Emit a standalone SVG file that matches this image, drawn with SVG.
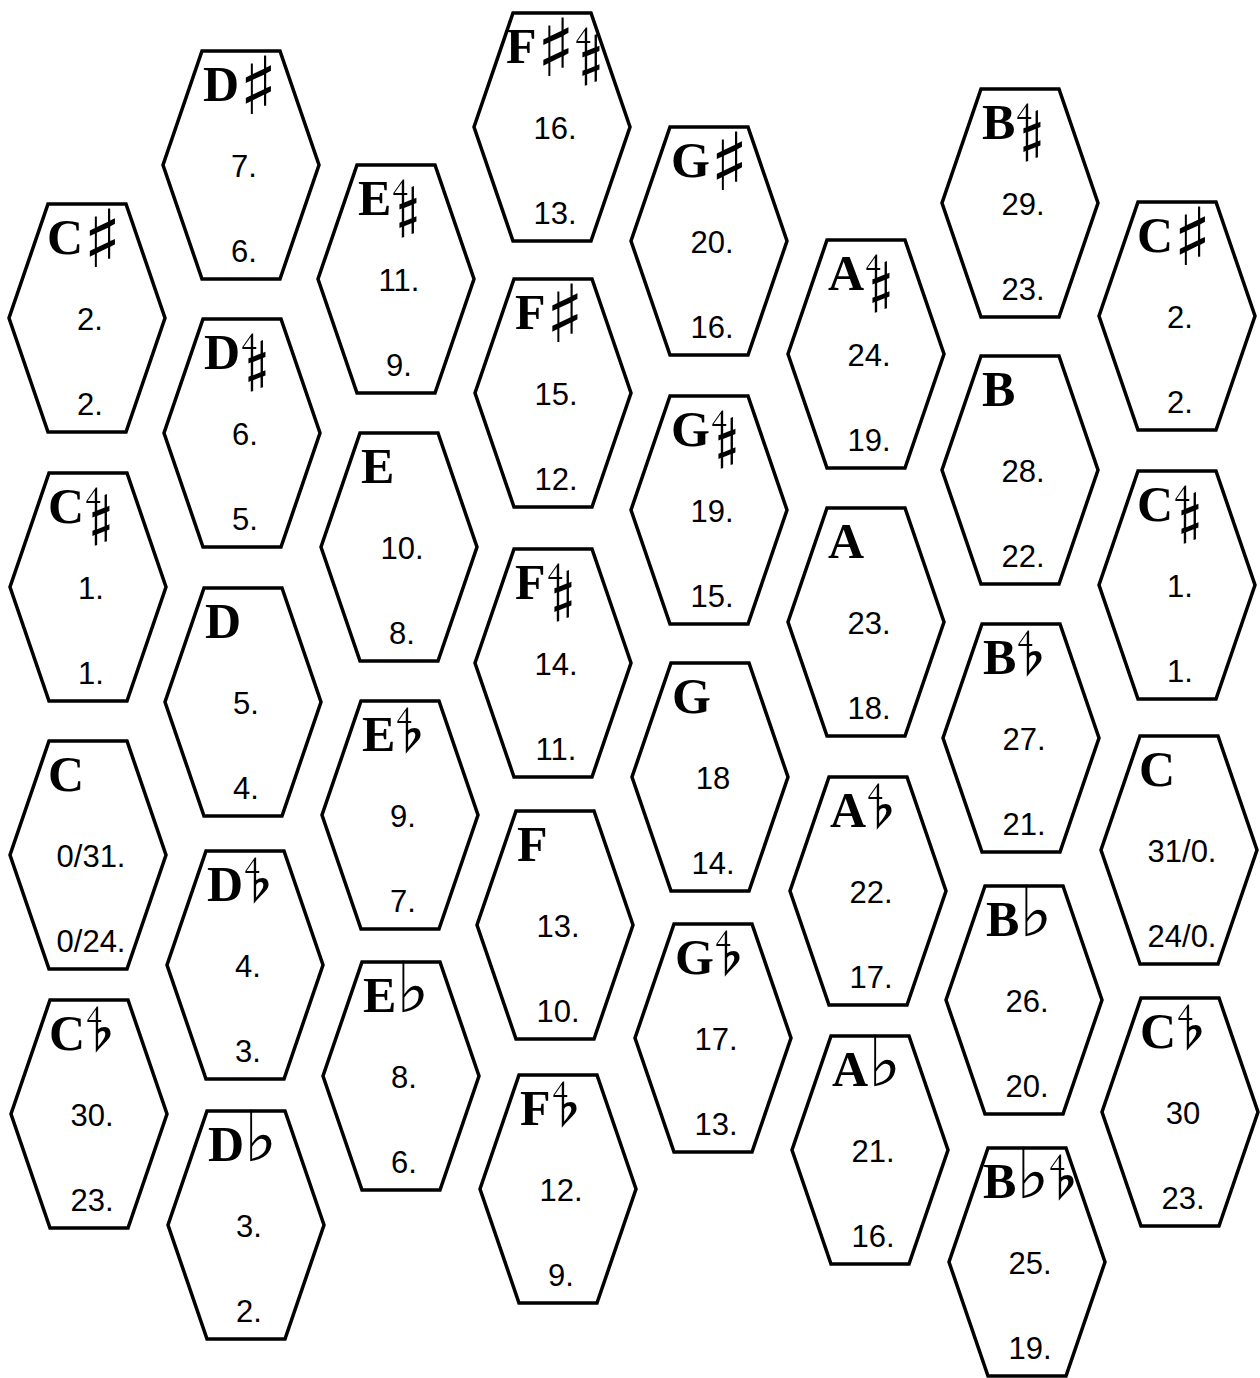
<svg xmlns="http://www.w3.org/2000/svg" width="1260" height="1378" viewBox="0 0 1260 1378">
<style>
.hx{fill:#fff;stroke:#000;stroke-width:3.5;stroke-linejoin:miter}
.l{font-family:"Liberation Serif",serif;font-weight:bold;font-size:50px;fill:#000}
.s{font-family:"DejaVu Sans",sans-serif;font-weight:normal;font-size:80px}
.f{font-family:"DejaVu Sans",sans-serif;font-weight:normal;font-size:70px}
.q{font-family:"DejaVu Sans",sans-serif;font-weight:normal;font-size:54px}
.n{font-family:"Liberation Sans",sans-serif;font-size:31px;fill:#000;text-anchor:middle}
</style>
<defs>
<polygon id="hx" class="hx" points="-39,-114 39,-114 78,0 39,114 -39,114 -78,0"/>
</defs>
<rect width="1260" height="1378" fill="#fff"/>
<g id="col1">
<g id="C-sharp-left" transform="translate(87,318)"><use href="#hx"/><text class="l" x="-40" y="-64">C<tspan class="s" dy="13">♯</tspan></text><text class="n" x="3" y="12">2.</text><text class="n" x="3" y="97">2.</text></g>
<g id="C-halfsharp-left" transform="translate(88,587)"><use href="#hx"/><text class="l" x="-40" y="-64">C<tspan class="q" dx="2" dy="8">𝄲</tspan></text><text class="n" x="3" y="12">1.</text><text class="n" x="3" y="97">1.</text></g>
<g id="C-left" transform="translate(88,855)"><use href="#hx"/><text class="l" x="-40" y="-64">C</text><text class="n" x="3" y="12">0/31.</text><text class="n" x="3" y="97">0/24.</text></g>
<g id="C-halfflat-left" transform="translate(89,1114)"><use href="#hx"/><text class="l" x="-40" y="-64">C<tspan class="q" dx="2">𝄳</tspan></text><text class="n" x="3" y="12">30.</text><text class="n" x="3" y="97">23.</text></g>
</g>
<g id="col2">
<g id="D-sharp" transform="translate(241,165)"><use href="#hx"/><text class="l" x="-38" y="-64">D<tspan class="s" dy="13">♯</tspan></text><text class="n" x="3" y="12">7.</text><text class="n" x="3" y="97">6.</text></g>
<g id="D-halfsharp" transform="translate(242,433)"><use href="#hx"/><text class="l" x="-38" y="-64">D<tspan class="q" dx="2" dy="8">𝄲</tspan></text><text class="n" x="3" y="12">6.</text><text class="n" x="3" y="97">5.</text></g>
<g id="D" transform="translate(243,702)"><use href="#hx"/><text class="l" x="-38" y="-64">D</text><text class="n" x="3" y="12">5.</text><text class="n" x="3" y="97">4.</text></g>
<g id="D-halfflat" transform="translate(245,965)"><use href="#hx"/><text class="l" x="-38" y="-64">D<tspan class="q" dx="2">𝄳</tspan></text><text class="n" x="3" y="12">4.</text><text class="n" x="3" y="97">3.</text></g>
<g id="D-flat" transform="translate(246,1225)"><use href="#hx"/><text class="l" x="-38" y="-64">D<tspan class="f">♭</tspan></text><text class="n" x="3" y="12">3.</text><text class="n" x="3" y="97">2.</text></g>
</g>
<g id="col3">
<g id="E-halfsharp" transform="translate(396,279)"><use href="#hx"/><text class="l" x="-38" y="-64">E<tspan class="q" dx="2" dy="8">𝄲</tspan></text><text class="n" x="3" y="12">11.</text><text class="n" x="3" y="97">9.</text></g>
<g id="E" transform="translate(399,547)"><use href="#hx"/><text class="l" x="-38" y="-64">E</text><text class="n" x="3" y="12">10.</text><text class="n" x="3" y="97">8.</text></g>
<g id="E-halfflat" transform="translate(400,815)"><use href="#hx"/><text class="l" x="-38" y="-64">E<tspan class="q" dx="2">𝄳</tspan></text><text class="n" x="3" y="12">9.</text><text class="n" x="3" y="97">7.</text></g>
<g id="E-flat" transform="translate(401,1076)"><use href="#hx"/><text class="l" x="-38" y="-64">E<tspan class="f">♭</tspan></text><text class="n" x="3" y="12">8.</text><text class="n" x="3" y="97">6.</text></g>
</g>
<g id="col4">
<g id="F-sesquisharp" transform="translate(552,127)"><use href="#hx"/><text class="l" x="-46" y="-64">F<tspan class="s" dy="13">♯</tspan><tspan class="q" dx="1" dy="-5">𝄲</tspan></text><text class="n" x="3" y="12">16.</text><text class="n" x="3" y="97">13.</text></g>
<g id="F-sharp" transform="translate(553,393)"><use href="#hx"/><text class="l" x="-38" y="-64">F<tspan class="s" dy="13">♯</tspan></text><text class="n" x="3" y="12">15.</text><text class="n" x="3" y="97">12.</text></g>
<g id="F-halfsharp" transform="translate(553,663)"><use href="#hx"/><text class="l" x="-38" y="-64">F<tspan class="q" dx="2" dy="8">𝄲</tspan></text><text class="n" x="3" y="12">14.</text><text class="n" x="3" y="97">11.</text></g>
<g id="F" transform="translate(555,925)"><use href="#hx"/><text class="l" x="-38" y="-64">F</text><text class="n" x="3" y="12">13.</text><text class="n" x="3" y="97">10.</text></g>
<g id="F-halfflat" transform="translate(558,1189)"><use href="#hx"/><text class="l" x="-38" y="-64">F<tspan class="q" dx="2">𝄳</tspan></text><text class="n" x="3" y="12">12.</text><text class="n" x="3" y="97">9.</text></g>
</g>
<g id="col5">
<g id="G-sharp" transform="translate(709,241)"><use href="#hx"/><text class="l" x="-38" y="-64">G<tspan class="s" dy="13">♯</tspan></text><text class="n" x="3" y="12">20.</text><text class="n" x="3" y="97">16.</text></g>
<g id="G-halfsharp" transform="translate(709,510)"><use href="#hx"/><text class="l" x="-38" y="-64">G<tspan class="q" dx="2" dy="8">𝄲</tspan></text><text class="n" x="3" y="12">19.</text><text class="n" x="3" y="97">15.</text></g>
<g id="G" transform="translate(710,777)"><use href="#hx"/><text class="l" x="-38" y="-64">G</text><text class="n" x="3" y="12">18</text><text class="n" x="3" y="97">14.</text></g>
<g id="G-halfflat" transform="translate(713,1038)"><use href="#hx"/><text class="l" x="-38" y="-64">G<tspan class="q" dx="2">𝄳</tspan></text><text class="n" x="3" y="12">17.</text><text class="n" x="3" y="97">13.</text></g>
</g>
<g id="col6">
<g id="A-halfsharp" transform="translate(866,354)"><use href="#hx"/><text class="l" x="-38" y="-64">A<tspan class="q" dx="2" dy="8">𝄲</tspan></text><text class="n" x="3" y="12">24.</text><text class="n" x="3" y="97">19.</text></g>
<g id="A" transform="translate(866,622)"><use href="#hx"/><text class="l" x="-38" y="-64">A</text><text class="n" x="3" y="12">23.</text><text class="n" x="3" y="97">18.</text></g>
<g id="A-halfflat" transform="translate(868,891)"><use href="#hx"/><text class="l" x="-38" y="-64">A<tspan class="q" dx="2">𝄳</tspan></text><text class="n" x="3" y="12">22.</text><text class="n" x="3" y="97">17.</text></g>
<g id="A-flat" transform="translate(870,1150)"><use href="#hx"/><text class="l" x="-38" y="-64">A<tspan class="f">♭</tspan></text><text class="n" x="3" y="12">21.</text><text class="n" x="3" y="97">16.</text></g>
</g>
<g id="col7">
<g id="B-halfsharp" transform="translate(1020,203)"><use href="#hx"/><text class="l" x="-38" y="-64">B<tspan class="q" dx="2" dy="8">𝄲</tspan></text><text class="n" x="3" y="12">29.</text><text class="n" x="3" y="97">23.</text></g>
<g id="B" transform="translate(1020,470)"><use href="#hx"/><text class="l" x="-38" y="-64">B</text><text class="n" x="3" y="12">28.</text><text class="n" x="3" y="97">22.</text></g>
<g id="B-halfflat" transform="translate(1021,738)"><use href="#hx"/><text class="l" x="-38" y="-64">B<tspan class="q" dx="2">𝄳</tspan></text><text class="n" x="3" y="12">27.</text><text class="n" x="3" y="97">21.</text></g>
<g id="B-flat" transform="translate(1024,1000)"><use href="#hx"/><text class="l" x="-38" y="-64">B<tspan class="f">♭</tspan></text><text class="n" x="3" y="12">26.</text><text class="n" x="3" y="97">20.</text></g>
<g id="B-sesquiflat" transform="translate(1027,1262)"><use href="#hx"/><text class="l" x="-44" y="-64">B<tspan class="f">♭</tspan><tspan class="q" dx="1">𝄳</tspan></text><text class="n" x="3" y="12">25.</text><text class="n" x="3" y="97">19.</text></g>
</g>
<g id="col8">
<g id="C-sharp-right" transform="translate(1177,316)"><use href="#hx"/><text class="l" x="-40" y="-64">C<tspan class="s" dy="13">♯</tspan></text><text class="n" x="3" y="12">2.</text><text class="n" x="3" y="97">2.</text></g>
<g id="C-halfsharp-right" transform="translate(1177,585)"><use href="#hx"/><text class="l" x="-40" y="-64">C<tspan class="q" dx="2" dy="8">𝄲</tspan></text><text class="n" x="3" y="12">1.</text><text class="n" x="3" y="97">1.</text></g>
<g id="C-right" transform="translate(1179,850)"><use href="#hx"/><text class="l" x="-40" y="-64">C</text><text class="n" x="3" y="12">31/0.</text><text class="n" x="3" y="97">24/0.</text></g>
<g id="C-halfflat-right" transform="translate(1180,1112)"><use href="#hx"/><text class="l" x="-40" y="-64">C<tspan class="q" dx="2">𝄳</tspan></text><text class="n" x="3" y="12">30</text><text class="n" x="3" y="97">23.</text></g>
</g>
</svg>
